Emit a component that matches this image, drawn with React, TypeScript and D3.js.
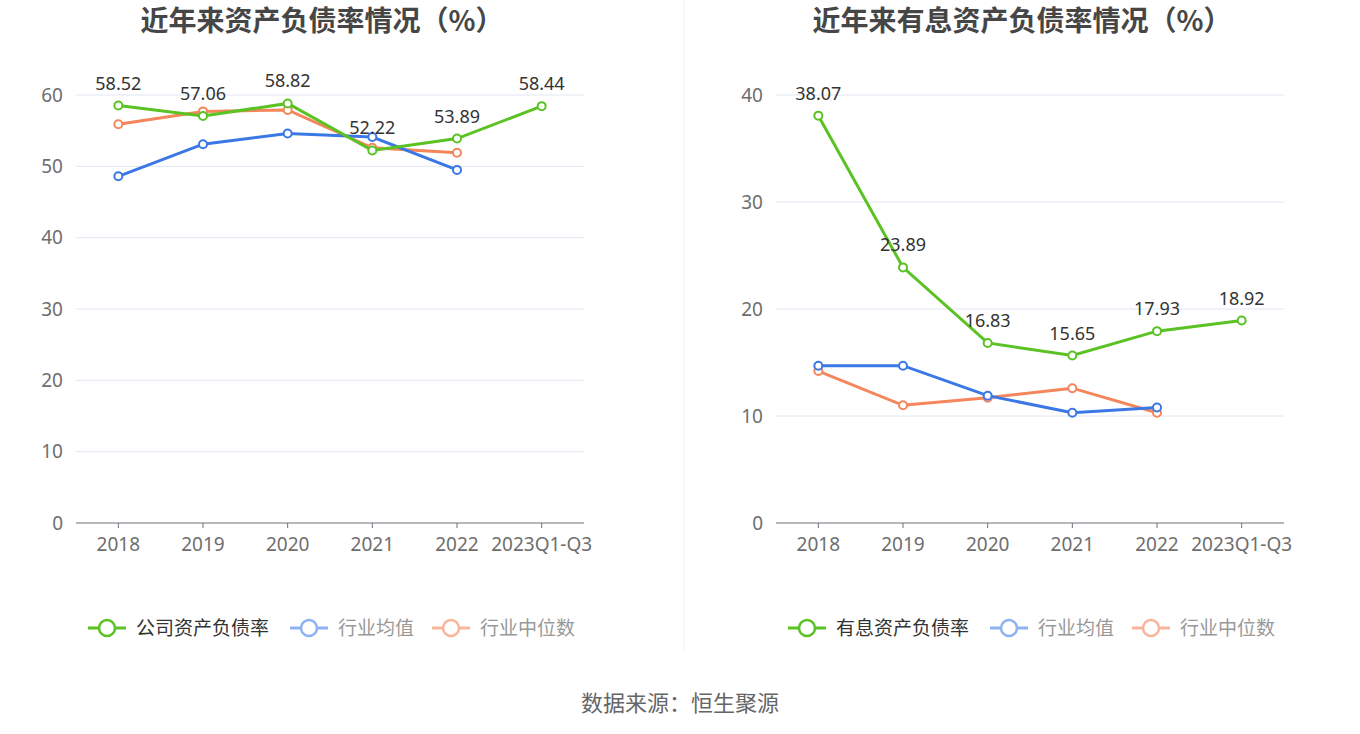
import React from "react";
import * as d3 from "d3";

const categories = ["2018", "2019", "2020", "2021", "2022", "2023Q1-Q3"];

const leftCompany = [58.52, 57.06, 58.82, 52.22, 53.89, 58.44];
const leftIndustryAvg = [48.6, 53.1, 54.6, 54.1, 49.5];
const leftIndustryMedian = [55.9, 57.7, 57.9, 52.6, 51.9];
const leftTicks = [0, 10, 20, 30, 40, 50, 60];

const rightCompany = [38.07, 23.89, 16.83, 15.65, 17.93, 18.92];
const rightIndustryAvg = [14.7, 14.7, 11.9, 10.3, 10.8];
const rightIndustryMedian = [14.2, 11.0, 11.7, 12.6, 10.3];
const rightTicks = [0, 10, 20, 30, 40];

const leftLegend = ["公司资产负债率", "行业均值", "行业中位数"];
const rightLegend = ["有息资产负债率", "行业均值", "行业中位数"];

const GREEN = "#5ac323";
const BLUE = "#3b78e6";
const ORANGE = "#f5855a";
const FONT = "'Noto Sans CJK SC', 'Noto Sans', sans-serif";
const NUMFONT = "'Noto Sans', 'Noto Sans CJK SC', sans-serif";

type PanelProps = {
  x0: number;
  title: string;
  company: number[];
  avg: number[];
  median: number[];
  ticks: number[];
  yMax: number;
  legend: string[];
};

function Panel({ x0, title, company, avg, median, ticks, yMax, legend }: PanelProps) {
  const left = x0 + 76;
  const right = x0 + 584;
  const top = 95;
  const bottom = 523;
  const x = d3.scaleBand<string>().domain(categories).range([left, right]);
  const y = d3.scaleLinear().domain([0, yMax]).range([bottom, top]);
  const cx = (i: number) => (x(categories[i]) as number) + x.bandwidth() / 2;
  const line = d3
    .line<number>()
    .x((_, i) => cx(i))
    .y((d) => y(d));
  const series = [
    { data: median, color: ORANGE },
    { data: avg, color: BLUE },
    { data: company, color: GREEN },
  ];
  const legendColors = [GREEN, "#8fb2f3", "#f9b59b"];
  const legendText = ["#333", "#999", "#999"];
  const legendWidths = [202, 142, 0];
  let lx = x0 + 88;
  return (
    <g>
      <text x={x0 + 322} y={21} dy="0.35em" textAnchor="middle" fontSize={28} fontWeight="bold" fill="#464646" fontFamily={FONT}>
        {title}
      </text>
      {ticks.map((t) => (
        <g key={t}>
          {t > 0 && <line x1={left} x2={right} y1={y(t)} y2={y(t)} stroke="#e0e6f1" strokeWidth={1} />}
          <text x={left - 13} y={y(t)} dy="0.35em" textAnchor="end" fontSize={19} fill="#6e6e6e" fontFamily={NUMFONT}>
            {t}
          </text>
        </g>
      ))}
      <line x1={left} x2={right} y1={bottom} y2={bottom} stroke="#6e7079" strokeWidth={1} />
      {categories.map((c, i) => (
        <g key={c}>
          <line x1={cx(i)} x2={cx(i)} y1={bottom} y2={bottom + 5} stroke="#6e7079" />
          <text x={cx(i)} y={bottom + 21} dy="0.35em" textAnchor="middle" fontSize={19} fill="#6e6e6e" fontFamily={NUMFONT}>
            {c}
          </text>
        </g>
      ))}
      {series.map((s, k) => (
        <g key={k}>
          <path d={line(s.data) || ""} fill="none" stroke={s.color} strokeWidth={3} />
          {s.data.map((d, i) => (
            <circle key={i} cx={cx(i)} cy={y(d)} r={4} fill="#fff" stroke={s.color} strokeWidth={2} />
          ))}
        </g>
      ))}
      {company.map((d, i) => (
        <text key={i} x={cx(i)} y={y(d) - 16} textAnchor="middle" fontSize={18} fill="#333" fontFamily={NUMFONT}>
          {d.toFixed(2)}
        </text>
      ))}
      {legend.map((name, i) => {
        const gx = lx;
        lx += legendWidths[i];
        return (
          <g key={name}>
            <line x1={gx} x2={gx + 38} y1={628} y2={628} stroke={legendColors[i]} strokeWidth={3} />
            <circle cx={gx + 19} cy={628} r={8} fill="#fff" stroke={legendColors[i]} strokeWidth={2.5} />
            <text x={gx + 48} y={628} dy="0.35em" fontSize={19} fill={legendText[i]} fontFamily={FONT}>
              {name}
            </text>
          </g>
        );
      })}
    </g>
  );
}

export default function App() {
  return (
    <svg width={1360} height={734} style={{ display: "block", position: "absolute", left: 0, top: 0 }}>
      <rect width={1360} height={734} fill="#fff" />
      <Panel
        x0={0}
        title="近年来资产负债率情况（%）"
        company={leftCompany}
        avg={leftIndustryAvg}
        median={leftIndustryMedian}
        ticks={leftTicks}
        yMax={60}
        legend={leftLegend}
      />
      <line x1={684} x2={684} y1={0} y2={650} stroke="#eee" strokeWidth={1} />
      <Panel
        x0={700}
        title="近年来有息资产负债率情况（%）"
        company={rightCompany}
        avg={rightIndustryAvg}
        median={rightIndustryMedian}
        ticks={rightTicks}
        yMax={40}
        legend={rightLegend}
      />
      <text x={680} y={703} dy="0.35em" textAnchor="middle" fontSize={22} fill="#666" fontFamily={FONT}>
        数据来源：恒生聚源
      </text>
    </svg>
  );
}
